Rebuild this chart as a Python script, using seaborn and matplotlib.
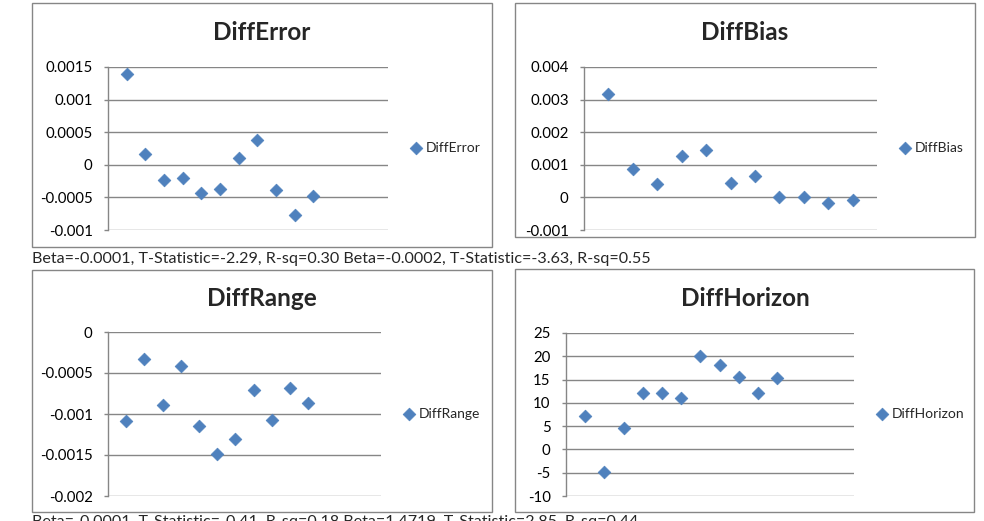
import numpy as np
import pandas as pd
import seaborn as sns
import matplotlib.pyplot as plt
from matplotlib.patches import Rectangle

obs = list(range(1, 12))
diff_error = [0.00139, 0.000158, -0.000235, -0.000204, -0.000429, -0.000378,
              0.000107, 0.000383, -0.000393, -0.000776, -0.00048]
diff_bias = [0.00316, 0.000857, 0.000398, 0.001276, 0.001439, 0.000439,
             0.000663, 0.0, 0.0, -0.000163, -0.000082]
diff_range = [-0.001082, -0.000327, -0.00089, -0.00042, -0.001143, -0.00149,
              -0.001302, -0.000706, -0.00107, -0.000686, -0.000861]
diff_horizon = [7.21, -4.86, 4.57, 12.14, 12.21, 11.0, 20.14, 18.21, 15.64,
                12.21, 15.29]

caption_top = ("Beta=-0.0001, T-Statistic=-2.29, R-sq=0.30 "
               "Beta=-0.0002, T-Statistic=-3.63, R-sq=0.55")
caption_bottom = ("Beta=-0.0001, T-Statistic=-0.41, R-sq=0.18 "
                  "Beta=1.4719, T-Statistic=2.85, R-sq=0.44")

sns.set_style("white")
plt.rcParams['font.family'] = ['Lato', 'DejaVu Sans']

W, H = 984, 521
fig = plt.figure(figsize=(W / 100, H / 100), dpi=100)

blue = '#4F81BD'
gray = '#868686'


def fx(x):
    return x / W


def fy(y):
    return 1 - y / H


panels = [
    # name, values, axes px (l, r, t, b), box px (l, t, r, b), xmax, yticks, ticklabels, legend marker, title center
    ("DiffError", diff_error, (108, 388, 67, 230), (32, 3, 492, 247), 15,
     [-0.001, -0.0005, 0, 0.0005, 0.001, 0.0015],
     ["-0.001", "-0.0005", "0", "0.0005", "0.001", "0.0015"], (416, 148), (262, 33)),
    ("DiffBias", diff_bias, (584, 877, 67, 230), (515, 3, 975, 237), 12,
     [-0.001, 0, 0.001, 0.002, 0.003, 0.004],
     ["-0.001", "0", "0.001", "0.002", "0.003", "0.004"], (905, 148), (745, 33)),
    ("DiffRange", diff_range, (108, 381, 332, 496), (32, 270, 492, 512), 15,
     [-0.002, -0.0015, -0.001, -0.0005, 0],
     ["-0.002", "-0.0015", "-0.001", "-0.0005", "0"], (409, 414), (262, 298)),
    ("DiffHorizon", diff_horizon, (566, 854, 333, 496), (515, 269, 974, 512), 15,
     [-10, -5, 0, 5, 10, 15, 20, 25],
     ["-10", "-5", "0", "5", "10", "15", "20", "25"], (882, 414), (745, 298)),
]

for name, vals, (l, r, t, b), (bl, bt, br, bb), xmax, yt, ytl, leg, ttl in panels:
    fig.patches.append(Rectangle((fx(bl), fy(bb)), fx(br - bl), (bb - bt) / H,
                                 transform=fig.transFigure, fill=False,
                                 edgecolor=gray, linewidth=1.0))
    ax = fig.add_axes([fx(l), fy(b), fx(r - l), (b - t) / H])
    df = pd.DataFrame({"x": obs, "y": vals})
    sns.scatterplot(data=df, x="x", y="y", ax=ax, marker="D", color=blue,
                    s=42, edgecolor=blue, linewidth=0.5, label=name, clip_on=False)
    ax.set_xlim(0, xmax)
    ax.set_ylim(yt[0], yt[-1])
    ax.set_yticks(yt)
    ax.set_yticklabels(ytl)
    ax.set_xticks([])
    ax.set_xlabel("")
    ax.set_ylabel("")
    ax.grid(axis='y', color=gray, linewidth=1.0)
    ax.set_axisbelow(True)
    for s in ['top', 'right', 'bottom']:
        ax.spines[s].set_visible(False)
    ax.spines['left'].set_color(gray)
    ax.spines['left'].set_linewidth(1.0)
    ax.tick_params(axis='y', left=True, length=3, color=gray, width=1.0,
                   labelsize=10.8, pad=8, labelcolor='black')
    ax.set_facecolor('none')
    ax.legend(loc='center left', bbox_to_anchor=(fx(leg[0] - 6), fy(leg[1])),
              bbox_transform=fig.transFigure, frameon=False, fontsize=10,
              handlelength=0.9, handletextpad=0.2, borderpad=0, borderaxespad=0)
    fig.text(fx(ttl[0]), fy(ttl[1]), name, ha='center', va='center',
             fontsize=17.5, fontweight='bold')

fig.text(fx(32), fy(259), caption_top, ha='left', va='center', fontsize=11.6)
# the reference cuts this line off at the bottom edge
fig.text(fx(32), fy(515), caption_bottom, ha='left', va='top', fontsize=11.6)

fig.savefig("out.png", dpi=100, facecolor='white')
